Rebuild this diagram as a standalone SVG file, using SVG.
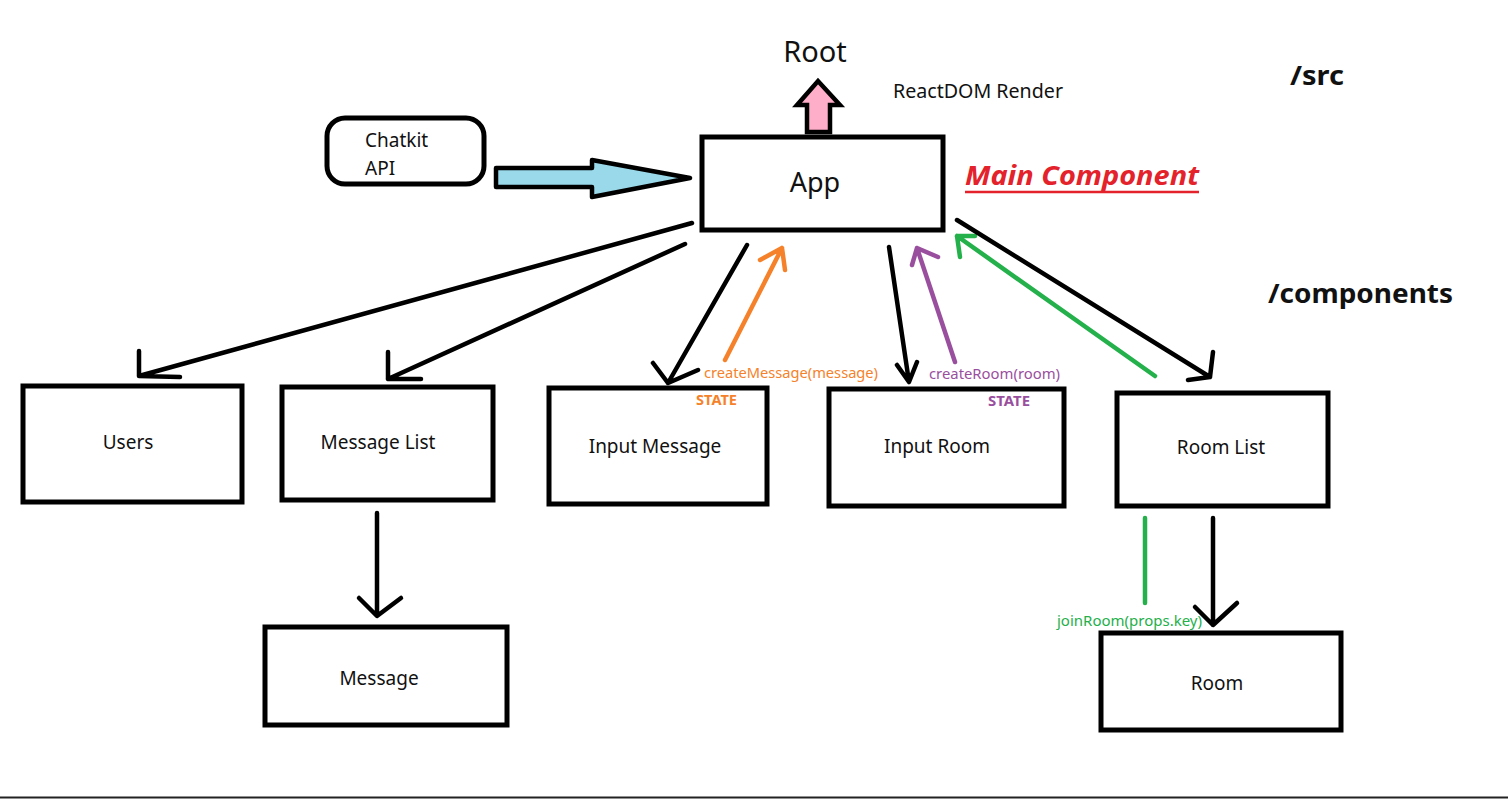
<svg xmlns="http://www.w3.org/2000/svg" width="1508" height="799" viewBox="0 0 1508 799">
<style>
.box{fill:#fff;stroke:#000;stroke-width:5}
.t{font-family:"Noto Sans","Open Sans",sans-serif;fill:#111;font-size:19px;text-anchor:middle}
.ln{fill:none;stroke:#000;stroke-width:4.5;stroke-linecap:round;stroke-linejoin:round}
.or{fill:none;stroke:#f5822a;stroke-width:4.5;stroke-linecap:round;stroke-linejoin:round}
.pu{fill:none;stroke:#9a4f9e;stroke-width:4.5;stroke-linecap:round;stroke-linejoin:round}
.gr{fill:none;stroke:#24b04b;stroke-width:4.5;stroke-linecap:round;stroke-linejoin:round}
.lbl{font-family:"Noto Sans","Open Sans",sans-serif;font-size:14.5px}
.st{font-family:"Noto Sans","Open Sans",sans-serif;font-size:14px;font-weight:bold}
.hd{font-family:"Noto Sans","Open Sans",sans-serif;font-weight:bold;fill:#111;font-size:26px}
</style>
<rect width="1508" height="799" fill="#fff"/>
<line x1="0" y1="797.5" x2="1508" y2="797.5" stroke="#222" stroke-width="2"/>

<g id="labels">
<text class="t" x="815" y="62" style="font-size:29px">Root</text>
<text class="t" x="978" y="98" style="font-size:19px" textLength="170" lengthAdjust="spacingAndGlyphs">ReactDOM Render</text>
<text class="hd" x="1290" y="85" textLength="54" lengthAdjust="spacingAndGlyphs">/src</text>
<text class="hd" x="1268" y="303" textLength="185" lengthAdjust="spacingAndGlyphs">/components</text>
<text x="965" y="185" font-family="Noto Sans, Open Sans, sans-serif" font-size="26" font-weight="bold" font-style="italic" fill="#e3222b" textLength="234" lengthAdjust="spacingAndGlyphs">Main Component</text>
<line x1="965" y1="192" x2="1199" y2="192" stroke="#e3222b" stroke-width="2.5"/>
</g>

<g id="connectors">
<polygon points="496,168 592,168 592,160 690,178 592,197 592,187 496,187" fill="#99d9ea" stroke="#000" stroke-width="4.5" stroke-linejoin="round"/>
<polygon points="807,132 807,105 797,105 818,81 840,105 830,105 830,132" fill="#ffaec9" stroke="#000" stroke-width="4.5" stroke-linejoin="miter"/>
<path class="ln" d="M692,223 L139,376 M139,351 L139,376 L180,377"/>
<path class="ln" d="M685,244 L388,379 M388,352 L388,379 L421,379"/>
<path class="ln" d="M747,245 L668,383 M653,363 L668,383 L698,370"/>
<path class="or" d="M725,360 L782,248 M760,260 L782,248 L785,270"/>
<path class="ln" d="M889,247 L909,382 M897,365 L909,382 L917,362"/>
<path class="pu" d="M955,362 L917,248 M912,265 L917,248 L938,257"/>
<path class="gr" d="M1155,376 L957,236 M960,257 L957,236 L975,236"/>
<path class="ln" d="M957,220 L1210,377 M1213,352 L1210,377 L1188,380"/>
<path class="ln" d="M377,513 L377,615 M359,598 L377,616 L401,598"/>
<path class="ln" d="M1213,518 L1213,625 M1195,607 L1213,625 L1237,603"/>
<path class="gr" d="M1145,518 L1145,603"/>
<text class="lbl" x="704" y="378" fill="#f5822a" textLength="174" lengthAdjust="spacingAndGlyphs">createMessage(message)</text>
<text class="lbl" x="929" y="379" fill="#9a4f9e" textLength="131" lengthAdjust="spacingAndGlyphs">createRoom(room)</text>
<text class="lbl" x="1057" y="626" fill="#24b04b" textLength="145" lengthAdjust="spacingAndGlyphs">joinRoom(props.key)</text>
</g>

<g id="chatkit">
<rect x="327" y="118" width="157" height="66" rx="18" class="box" stroke-width="4.5"/>
<text class="t" x="365" y="147" style="text-anchor:start">Chatkit</text>
<text class="t" x="365" y="175" style="text-anchor:start">API</text>
</g>
<g id="app">
<rect x="702" y="137" width="241" height="93" class="box"/>
<text class="t" x="815" y="192" style="font-size:27px">App</text>
</g>
<g id="users">
<rect x="23" y="386" width="219" height="116" class="box"/>
<text class="t" x="128" y="449">Users</text>
</g>
<g id="messagelist">
<rect x="282" y="387" width="211" height="113" class="box"/>
<text class="t" x="378" y="449">Message List</text>
</g>
<g id="inputmessage">
<rect x="549" y="388" width="218" height="116" class="box"/>
<text class="t" x="655" y="453">Input Message</text>
<text class="st" x="696" y="405" fill="#f5822a" textLength="41" lengthAdjust="spacingAndGlyphs">STATE</text>
</g>
<g id="inputroom">
<rect x="829" y="389" width="235" height="117" class="box"/>
<text class="t" x="937" y="453">Input Room</text>
<text class="st" x="988" y="406" fill="#9a4f9e" textLength="42" lengthAdjust="spacingAndGlyphs">STATE</text>
</g>
<g id="roomlist">
<rect x="1117" y="393" width="211" height="113" class="box"/>
<text class="t" x="1221" y="454">Room List</text>
</g>
<g id="message">
<rect x="265" y="627" width="242" height="98" class="box"/>
<text class="t" x="379" y="685">Message</text>
</g>
<g id="room">
<rect x="1101" y="633" width="240" height="97" class="box"/>
<text class="t" x="1217" y="690">Room</text>
</g>
</svg>
